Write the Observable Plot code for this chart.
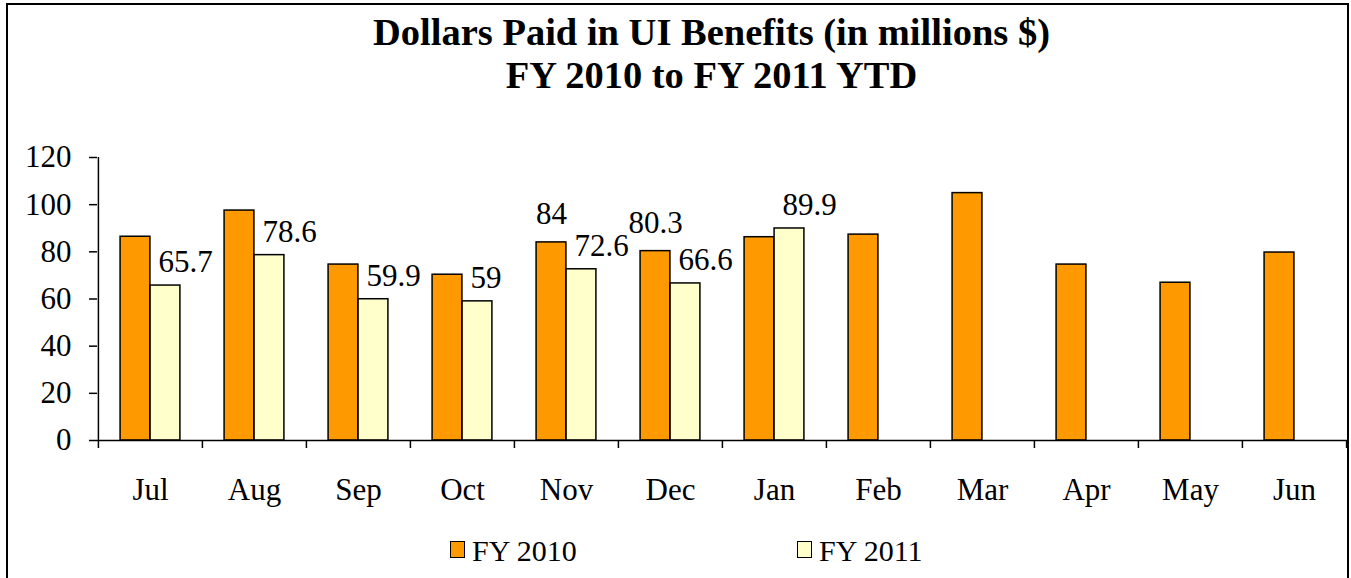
<!DOCTYPE html>
<html>
<head>
<meta charset="utf-8">
<script src="https://cdn.jsdelivr.net/npm/d3@7"></script>
<script src="https://cdn.jsdelivr.net/npm/@observablehq/plot@0.6"></script>
<style>
  html, body { margin: 0; padding: 0; background: #fff; }
  .serif { font-family: 'Liberation Serif'; }
</style>
</head>
<body>
<div id="wrap" style="position:relative;width:1351px;height:578px;overflow:hidden;">
  <div id="title" class="serif" style="position:absolute;left:36px;top:11px;width:1351px;text-align:center;font-family:'Liberation Serif';font-weight:bold;font-size:38.5px;line-height:43px;color:#000;">Dollars Paid in UI Benefits (in millions $)<br>FY 2010 to FY 2011 YTD</div>
  <div id="chart" style="position:absolute;left:0;top:130px;"></div>
  <div class="serif" style="position:absolute;left:450px;top:533px;font-family:'Liberation Serif';font-size:30px;line-height:36px;color:#000;display:flex;align-items:center;"><span style="display:inline-block;position:relative;top:-2px;width:15px;height:17px;border:1.5px solid #000;margin-right:7px;box-sizing:border-box;background:#FF9900"></span>FY 2010</div>
  <div class="serif" style="position:absolute;left:797px;top:533px;font-family:'Liberation Serif';font-size:30px;line-height:36px;color:#000;display:flex;align-items:center;"><span style="display:inline-block;position:relative;top:-2px;width:15px;height:17px;border:1.5px solid #000;margin-right:7px;box-sizing:border-box;background:#FFFFCC"></span>FY 2011</div>
  <div style="position:absolute;left:6px;top:3px;width:1343px;height:640px;border:2px solid #000;box-sizing:border-box;pointer-events:none;"></div>
</div>
<script>
const months = ["Jul","Aug","Sep","Oct","Nov","Dec","Jan","Feb","Mar","Apr","May","Jun"];
const fy2010 = [86.4, 97.5, 74.6, 70.3, 84, 80.3, 86.2, 87.3, 104.9, 74.6, 66.9, 79.7];
const fy2011 = [65.7, 78.6, 59.9, 59, 72.6, 66.6, 89.9, null, null, null, null, null];
const fy2010Labels = [null, null, null, null, "84", "80.3", null, null, null, null, null, null];
const yTicks = [0, 20, 40, 60, 80, 100, 120];

const FONT = "Liberation Serif";
const FS = 31;
const W = 1351, H = 380, mL = 97, mR = 4, mT = 27, mB = 70;
const step = (W - mL - mR) / months.length;
const barW = 30;

const d10 = months.map((m, i) => ({month: m, value: fy2010[i], label: fy2010Labels[i]}));
const d11 = months.map((m, i) => ({month: m, value: fy2011[i]})).filter(d => d.value != null);
const d10L = d10.filter(d => d.label != null);

const chart = Plot.plot({
  width: W, height: H,
  marginLeft: mL, marginRight: mR, marginTop: mT, marginBottom: mB,
  style: {fontFamily: FONT, fontSize: FS + "px", color: "#000", background: "transparent"},
  x: {domain: months, padding: 0},
  y: {domain: [0, 120]},
  marks: [
    Plot.barY(d10, {x: "month", y: "value", fill: "#FF9900", stroke: "#000", strokeWidth: 1.5,
      insetLeft: step / 2 - barW, insetRight: step / 2}),
    Plot.barY(d11, {x: "month", y: "value", fill: "#FFFFCC", stroke: "#000", strokeWidth: 1.5,
      insetLeft: step / 2, insetRight: step / 2 - barW}),
    Plot.axisY({ticks: yTicks, tickSize: 8, tickPadding: 18, label: null, fontSize: FS, fontFamily: FONT, stroke: "#000", strokeWidth: 1.5, fill: "#000"}),
    Plot.axisX({tickSize: 0, tickPadding: 37, label: null, fontSize: FS, fontFamily: FONT, fill: "#000"}),
    Plot.ruleY([0], {stroke: "#000", strokeWidth: 1.5}),
    Plot.ruleX([months[0]], {y1: 0, y2: 120, dx: -step / 2, stroke: "#000", strokeWidth: 1.5}),
    Plot.ruleX(months, {y1: 0, y2: 0, dx: -step / 2, insetBottom: -8, stroke: "#000", strokeWidth: 1.5}),
    Plot.ruleX([months[months.length - 1]], {y1: 0, y2: 0, dx: step / 2, insetBottom: -8, stroke: "#000", strokeWidth: 1.5}),
    Plot.text(d11, {x: "month", y: "value", text: d => String(d.value), textAnchor: "start", dx: 8, dy: -23, lineAnchor: "middle", fill: "#000", fontSize: FS, fontFamily: FONT}),
    Plot.text(d10L, {x: "month", y: "value", text: "label", textAnchor: "middle", dx: -barW / 2, dy: -28, lineAnchor: "middle", fill: "#000", fontSize: FS, fontFamily: FONT})
  ]
});
document.getElementById("chart").appendChild(chart);
</script>
</body>
</html>
